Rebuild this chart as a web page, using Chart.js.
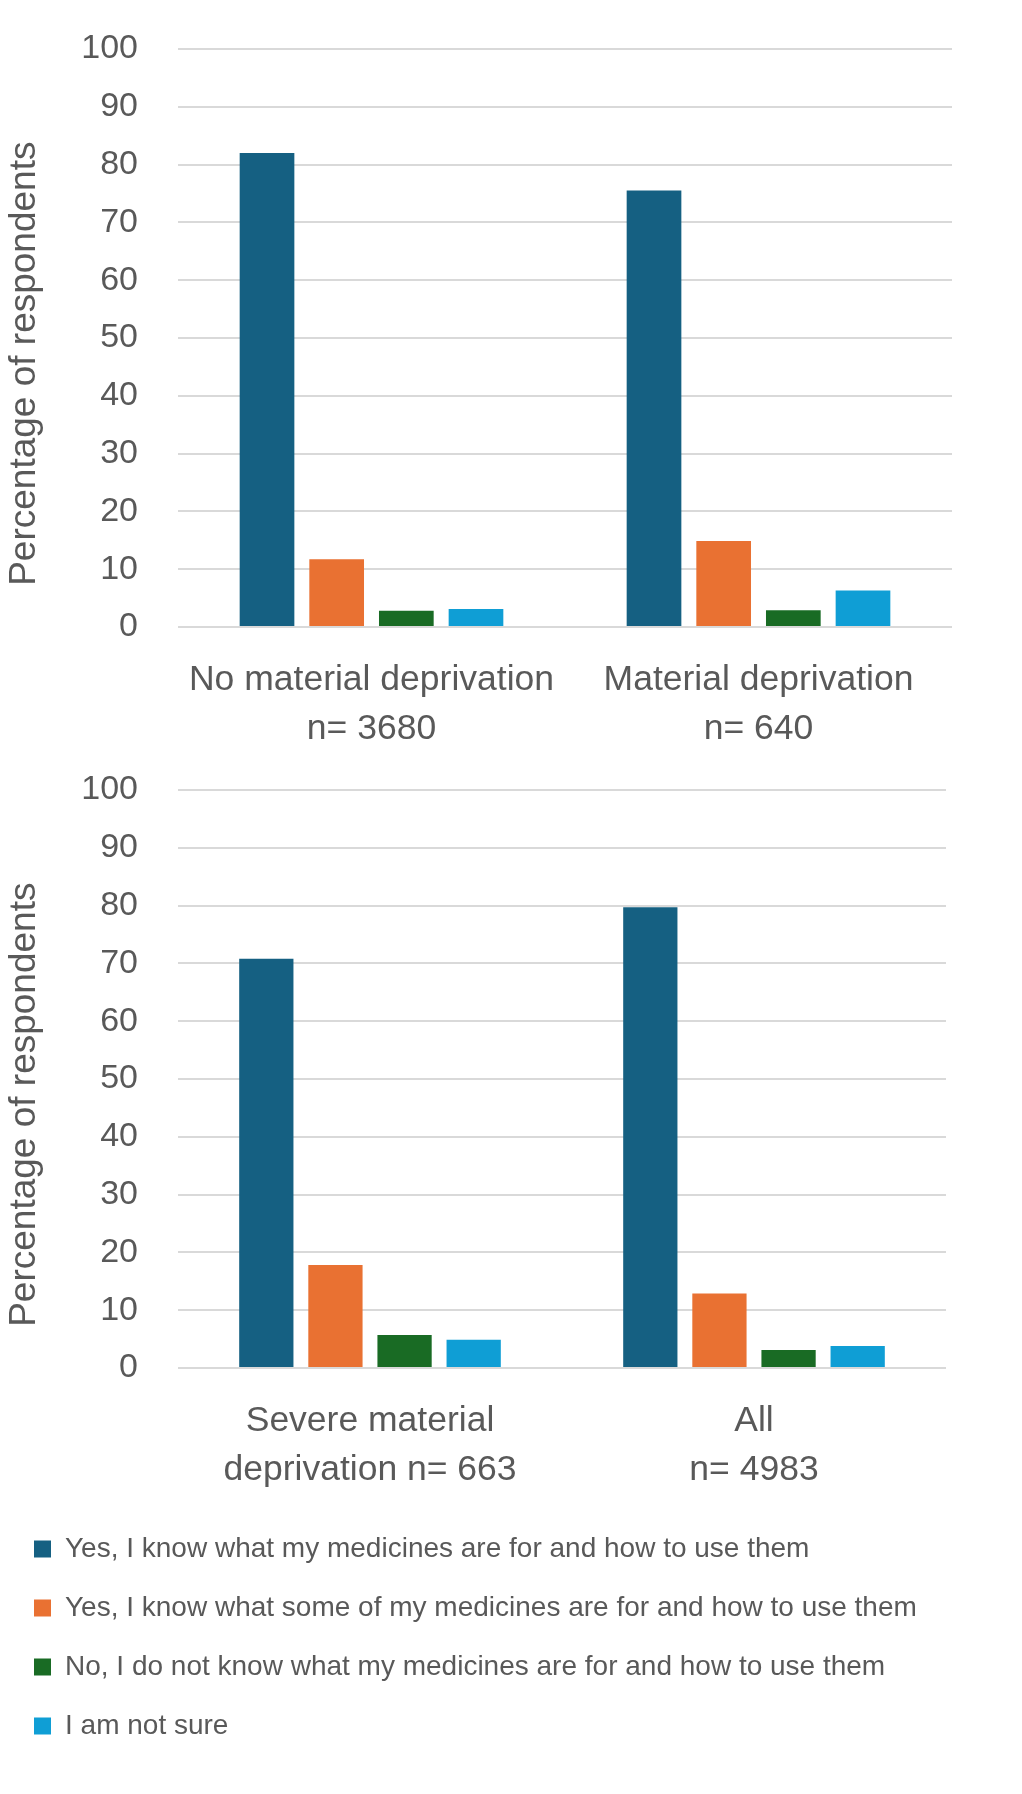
<!DOCTYPE html>
<html lang="en">
<head>
<meta charset="UTF-8">
<title>Knowledge of medicines by material deprivation</title>
<script src="https://cdn.jsdelivr.net/npm/chart.js@4.4.1/dist/chart.umd.min.js"></script>
<style>
    html, body { margin: 0; padding: 0; background: #ffffff; }
    .panel { position: relative; width: 1022px; }
    #topPanel { height: 745px; }
    #bottomPanel { height: 1049px; }
</style>
</head>
<body>
<div class="panel" id="topPanel"><canvas id="topChart"></canvas></div>
<div class="panel" id="bottomPanel"><canvas id="bottomChart"></canvas></div>

<script>
// Series (answers)
const seriesNames = [
    'Yes, I know what my medicines are for and how to use them',
    'Yes, I know what some of my medicines are for and how to use them',
    'No, I do not know what my medicines are for and how to use them',
    'I am not sure'
];
const seriesColors = ['#156082', '#E97132', '#196B24', '#0F9ED5'];

// Groups, one pair per panel
const topCategories = [['No material deprivation', 'n= 3680'], ['Material deprivation', 'n= 640']];
const bottomCategories = [['Severe material', 'deprivation n= 663'], ['All', 'n= 4983']];

// Percentages
const topKnowAll = [82.0, 75.5];
const topKnowSome = [11.7, 14.9];
const topDontKnow = [2.8, 2.9];
const topNotSure = [3.1, 6.3];

const bottomKnowAll = [70.8, 79.7];
const bottomKnowSome = [17.8, 12.9];
const bottomDontKnow = [5.7, 3.1];
const bottomNotSure = [4.9, 3.8];

// Y axis ticks
const yMin = 0;
const yMax = 100;
const yStep = 10;

const textColor = '#595959';
const gridColor = '#D9D9D9';
const fontFamily = '"Liberation Sans", Arial, sans-serif';

function makeDatasets(values) {
    return values.map((data, i) => ({
        label: seriesNames[i],
        data: data,
        backgroundColor: seriesColors[i],
        borderWidth: 0,
        categoryPercentage: 0.72,
        barPercentage: 0.785
    }));
}

function makeChart(canvasId, categories, values, opts) {
    const ctx = document.getElementById(canvasId).getContext('2d');
    return new Chart(ctx, {
        type: 'bar',
        data: {
            labels: categories,
            datasets: makeDatasets(values)
        },
        options: {
            responsive: true,
            maintainAspectRatio: false,
            animation: false,
            layout: {
                padding: { top: opts.padTop, right: opts.padRight, bottom: opts.padBottom, left: 3 }
            },
            plugins: {
                legend: {
                    display: opts.legend,
                    position: 'bottom',
                    align: 'start',
                    labels: {
                        color: textColor,
                        boxWidth: 17,
                        boxHeight: 17,
                        padding: 31,
                        font: { family: fontFamily, size: 28 }
                    }
                },
                tooltip: { enabled: false }
            },
            scales: {
                x: {
                    grid: { display: false },
                    border: { display: false },
                    ticks: {
                        color: textColor,
                        padding: 20,
                        maxRotation: 0,
                        font: { family: fontFamily, size: 35.5, lineHeight: 1.4 }
                    },
                    afterFit: (axis) => { axis.height = opts.xHeight; }
                },
                y: {
                    min: yMin,
                    max: yMax,
                    // invisible tick marks keep the labels away from the plot
                    grid: { color: gridColor, lineWidth: 2, drawTicks: true, tickLength: 40, tickColor: 'rgba(0,0,0,0)' },
                    border: { display: false },
                    ticks: {
                        stepSize: yStep,
                        color: textColor,
                        padding: 0,
                        font: { family: fontFamily, size: 34 }
                    },
                    title: {
                        display: true,
                        // trailing spaces push the title down a little, as in the original
                        text: 'Percentage of respondents\u00A0\u00A0\u00A0\u00A0\u00A0',
                        color: textColor,
                        padding: { top: 0, bottom: 0 },
                        font: { family: fontFamily, size: 37 }
                    },
                    afterFit: (axis) => { axis.width = 175; }
                }
            }
        }
    });
}

// Top panel: no / material deprivation
makeChart('topChart', topCategories,
    [topKnowAll, topKnowSome, topDontKnow, topNotSure],
    { padTop: 49, padRight: 70, padBottom: 0, xHeight: 118, legend: false });

// Bottom panel: severe deprivation / all, with the shared legend
makeChart('bottomChart', bottomCategories,
    [bottomKnowAll, bottomKnowSome, bottomDontKnow, bottomNotSure],
    { padTop: 45, padRight: 76, padBottom: 44, xHeight: 136, legend: true });
</script>
</body>
</html>
